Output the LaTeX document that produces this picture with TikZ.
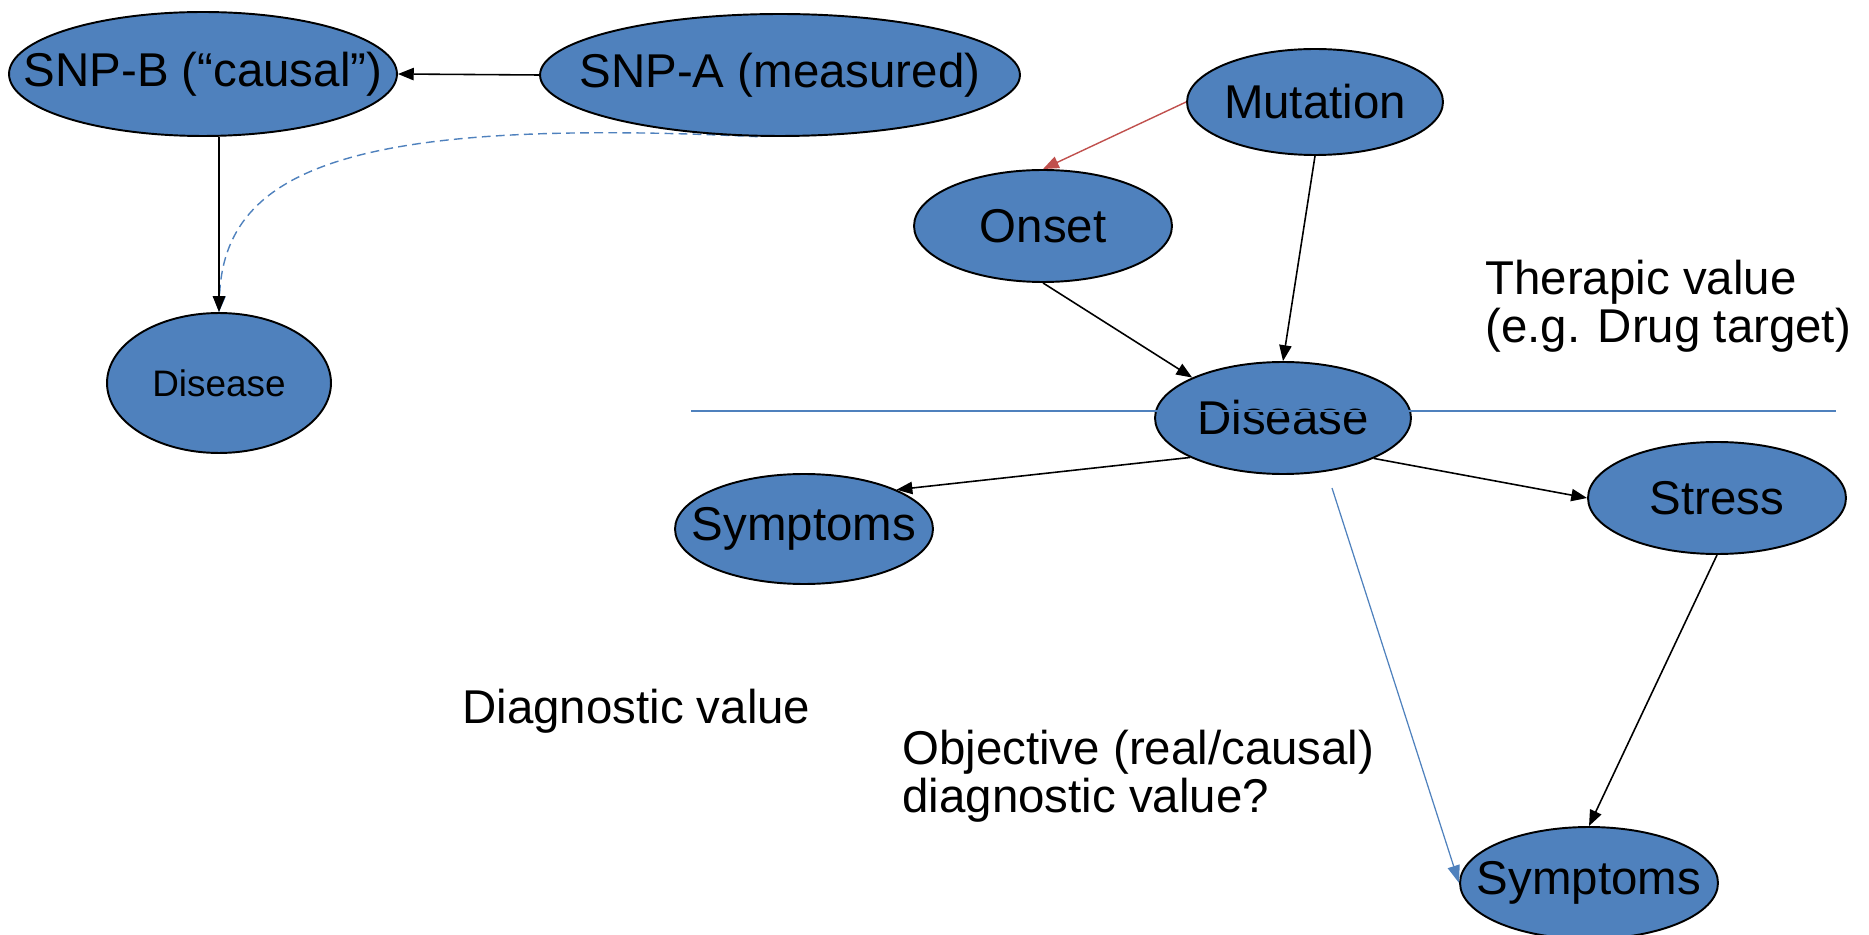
\documentclass[tikz,border=0pt]{standalone}
\usepackage{fontspec}
\setmainfont{Liberation Sans}
\usetikzlibrary{shapes.geometric, arrows.meta, backgrounds}
\definecolor{nodeblue}{RGB}{79,129,189}
\definecolor{linkred}{RGB}{192,80,77}

\begin{document}
\begin{tikzpicture}[x=0.02cm, y=-0.02cm,
    every node/.style={font=\fontsize{27}{27}\selectfont},
    var/.style={ellipse, draw, line width=1.1pt, fill=nodeblue, inner sep=0pt},
    arr/.style={line width=0.9pt, -{Triangle[length=9pt, width=7pt]}},
    note/.style={anchor=north west, align=left, inner sep=0pt}]
  \useasboundingbox (0,0) rectangle (1869,935);
  % SNP example
  \node[var, minimum width=7.76cm, minimum height=2.48cm, label={center:SNP-B (“causal”)}] (snpB) at (203,74) {};
  \node[var, minimum width=9.6cm, minimum height=2.44cm, label={center:SNP-A (measured)}] (snpA) at (780,75) {};
  \node[var, minimum width=4.48cm, minimum height=2.8cm,
    label={[font=\fontsize{21}{21}\selectfont]center:Disease}] (disL) at (219,383) {};
  \draw[arr] (snpA.west) -- (snpB.east);
  \draw[arr] (snpB.south -| disL.north) -- (disL.north);
  \begin{scope}[on background layer]
    \draw[nodeblue, line width=0.8pt, dash pattern=on 5pt off 3pt, -{Triangle[open, length=9pt, width=7pt]}]
      (snpA.250) .. controls (360,118) and (224,165) .. (disL.north);
  \end{scope}
  % causal graph
  \node[var, minimum width=5.12cm, minimum height=2.12cm, label={center:Mutation}] (mut) at (1315,102) {};
  \node[var, minimum width=5.16cm, minimum height=2.24cm, label={center:Onset}] (onset) at (1043,226) {};
  \node[var, minimum width=5.12cm, minimum height=2.24cm, label={center:Disease}] (disR) at (1283,418) {};
  \node[var, minimum width=5.16cm, minimum height=2.2cm, label={center:Symptoms}] (symL) at (804,529) {};
  \node[var, minimum width=5.16cm, minimum height=2.24cm, label={center:Stress}] (stress) at (1717,498) {};
  \node[var, minimum width=5.16cm, minimum height=2.24cm, label={center:Symptoms}] (symB) at (1589,883) {};
  \draw[arr, color=linkred, line width=0.8pt] (mut.west) -- (onset.north);
  \draw[arr] (mut.south) -- (disR.north);
  \draw[arr] (onset.south) -- (disR.156);
  \draw[arr] (disR.203) -- (symL.23);
  \draw[arr] (disR.336) -- (stress.west);
  \draw[arr] (stress.south) -- (symB.north);
  \coordinate (real) at (1332,488);
  \draw[nodeblue, line width=0.7pt, -{Triangle[length=10pt, width=7pt]}] (real) -- (symB.west);
  \coordinate (cutL) at (691,411);
  \coordinate (cutR) at (1836,411);
  \draw[nodeblue, line width=1.5pt] (cutL) -- (cutR);
  \node[note] (therapic) at (1485,260) {Therapic value\\(e.g. Drug target)};
  \node[note] (diag) at (462,689) {Diagnostic value};
  \node[note] (objective) at (902,730) {Objective (real/causal)\\diagnostic value?};
\end{tikzpicture}
\end{document}
